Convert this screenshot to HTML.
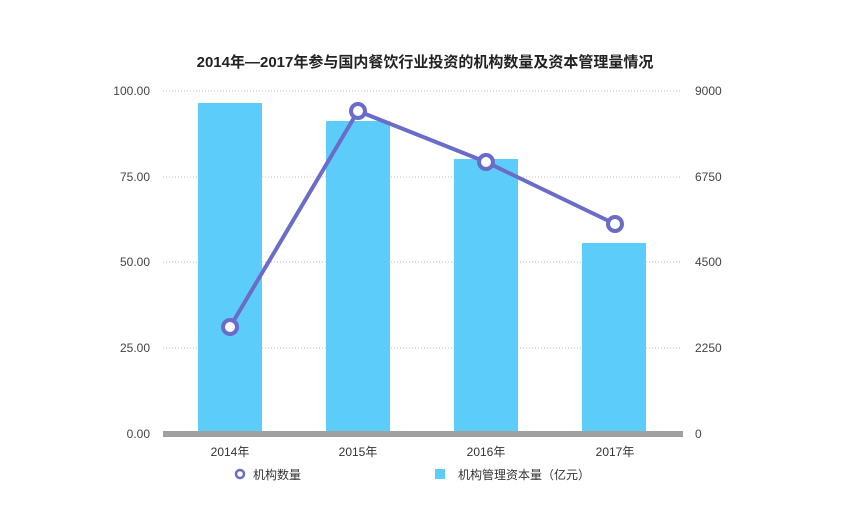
<!DOCTYPE html>
<html><head><meta charset="utf-8"><style>
html,body{margin:0;padding:0;background:#fff;}
svg{display:block;font-family:"Liberation Sans","Noto Sans CJK SC",sans-serif;}
</style></head><body>
<svg width="850" height="524" viewBox="0 0 850 524">
<text x="425" y="67" text-anchor="middle" font-size="15" font-weight="bold" fill="#222">2014年—2017年参与国内餐饮行业投资的机构数量及资本管理量情况</text>
<g stroke="#bbb" stroke-width="1" stroke-dasharray="1,2">
<line x1="163" y1="91" x2="682" y2="91"/>
<line x1="163" y1="177" x2="682" y2="177"/>
<line x1="163" y1="262" x2="682" y2="262"/>
<line x1="163" y1="348" x2="682" y2="348"/>
</g>
<g font-size="12" fill="#444" text-anchor="end">
<text x="150" y="95">100.00</text>
<text x="150" y="181">75.00</text>
<text x="150" y="266">50.00</text>
<text x="150" y="352">25.00</text>
<text x="150" y="438">0.00</text>
</g>
<g font-size="12" fill="#444" text-anchor="start">
<text x="695" y="95">9000</text>
<text x="695" y="181">6750</text>
<text x="695" y="266">4500</text>
<text x="695" y="352">2250</text>
<text x="695" y="438">0</text>
</g>
<g fill="#5ccdfb">
<rect x="198" y="103" width="64" height="331"/>
<rect x="326" y="121" width="64" height="313"/>
<rect x="454" y="159" width="64" height="275"/>
<rect x="582" y="243" width="64" height="191"/>
</g>
<rect x="163" y="431" width="520" height="6" fill="#a0a0a0"/>
<polyline points="230,327 358,111 486,162 615,224" fill="none" stroke="#6a6cc8" stroke-width="4"/>
<g fill="#fff" stroke="#6a6cc8" stroke-width="4">
<circle cx="230" cy="327" r="7"/>
<circle cx="358" cy="111" r="7"/>
<circle cx="486" cy="162" r="7"/>
<circle cx="615" cy="224" r="7"/>
</g>
<g font-size="12" fill="#333" text-anchor="middle">
<text x="230" y="456">2014年</text>
<text x="358" y="456">2015年</text>
<text x="486" y="456">2016年</text>
<text x="615" y="456">2017年</text>
</g>
<circle cx="240" cy="474" r="4" fill="#fff" stroke="#6a6cc8" stroke-width="2.5"/>
<text x="253" y="479" font-size="12" fill="#333">机构数量</text>
<rect x="435" y="469" width="10" height="10" fill="#5ccdfb"/>
<text x="458" y="479" font-size="12" fill="#333">机构管理资本量（亿元）</text>
</svg>
</body></html>
